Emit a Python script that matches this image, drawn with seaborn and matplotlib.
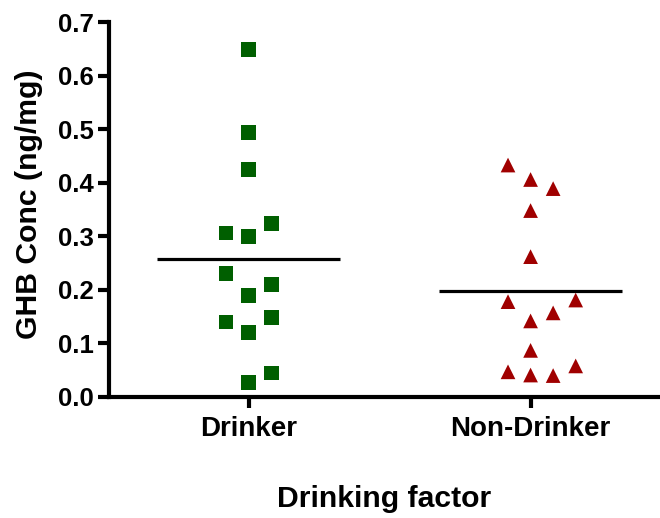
import numpy as np
import pandas as pd
import matplotlib
matplotlib.use("Agg")
import matplotlib.pyplot as plt
import seaborn as sns

# GHB concentration (ng/mg) per subject, in entry order
groups = ["Drinker", "Non-Drinker"]
drinker = [0.027, 0.045, 0.121, 0.149, 0.140, 0.190, 0.210, 0.231,
           0.300, 0.324, 0.306, 0.425, 0.494, 0.649]
non_drinker = [0.041, 0.040, 0.047, 0.058, 0.087, 0.142, 0.157, 0.178,
               0.181, 0.262, 0.348, 0.406, 0.389, 0.433]
y_ticks = [0.0, 0.1, 0.2, 0.3, 0.4, 0.5, 0.6, 0.7]

colors = {"Drinker": "#005f00", "Non-Drinker": "#a00000"}
markers = {"Drinker": "s", "Non-Drinker": "^"}


def column_slots(values, gap=0.045, order=(0, 1, -1, 2, -2, 3, -3)):
    """Column-scatter layout: each point takes the first free column
    whose points are all at least `gap` away vertically."""
    placed = {k: [] for k in order}
    slots = []
    for v in values:
        for k in order:
            if all(abs(v - u) >= gap for u in placed[k]):
                placed[k].append(v)
                slots.append(k)
                break
    return np.array(slots)


slot_step = 0.08
rows = []
for gi, (name, vals) in enumerate(zip(groups, [drinker, non_drinker])):
    slots = column_slots(vals)
    for v, s in zip(vals, slots):
        rows.append({"group": name, "value": v, "xpos": gi + s * slot_step})
df = pd.DataFrame(rows)

sns.set_theme(style="ticks")
plt.rcParams["font.family"] = ["Liberation Sans", "DejaVu Sans"]
plt.rcParams["font.weight"] = "bold"

fig = plt.figure(figsize=(6.6, 5.18), dpi=100)
ax = fig.add_axes([0.1652, 0.2336, 0.8348, 0.7239])

# Mean line for each group
sns.boxplot(data=df, x="group", y="value", order=groups, width=0.65,
            showmeans=True, meanline=True, showbox=False, showcaps=False,
            showfliers=False,
            meanprops={"color": "black", "linewidth": 2.3, "linestyle": "-"},
            medianprops={"visible": False},
            whiskerprops={"visible": False},
            ax=ax)

sns.scatterplot(data=df, x="xpos", y="value", hue="group", style="group",
                palette=colors, markers=markers, s=112, linewidth=0,
                legend=False, ax=ax, zorder=3)

ax.set_xlim(-0.495, 1.459)
ax.set_ylim(0, 0.7)
ax.set_xticks([0, 1], groups)
ax.set_yticks(y_ticks, [f"{t:.1f}" for t in y_ticks])
sns.despine(ax=ax)
for side in ("left", "bottom"):
    ax.spines[side].set_linewidth(3)
    ax.spines[side].set_color("black")
ax.tick_params(axis="both", width=3, length=8, color="black",
               labelcolor="black")
ax.tick_params(axis="x", pad=6, labelsize=20)
ax.tick_params(axis="y", pad=3, labelsize=18.5)
for lab in ax.get_xticklabels() + ax.get_yticklabels():
    lab.set_fontweight("bold")

ax.set_xlabel("Drinking factor", fontsize=21.7, fontweight="bold",
              color="black", va="baseline")
ax.xaxis.set_label_coords(0.499, -0.2925)
ax.set_ylabel("GHB Conc (ng/mg)", fontsize=21.7, fontweight="bold",
              color="black", rotation_mode="anchor", ha="center",
              va="baseline")
ax.yaxis.set_label_coords(-0.131, 0.515)

fig.savefig("out.png", dpi=100, facecolor="white")
